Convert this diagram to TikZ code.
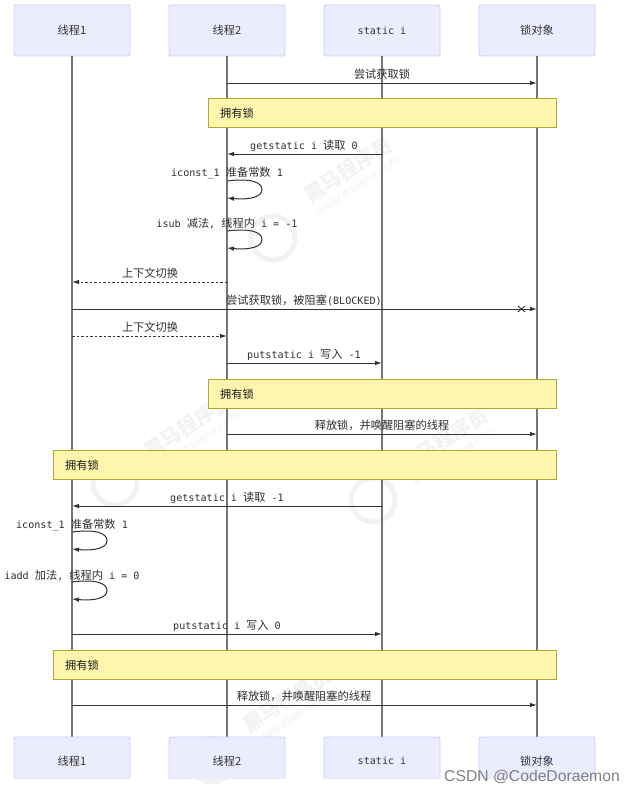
\documentclass[tikz,border=0pt]{standalone}
\usepackage{fontspec}
\setmainfont{Noto Sans CJK SC}
\setmonofont{DejaVu Sans Mono}
\newfontfamily\arialf{Liberation Sans}
\usetikzlibrary{arrows.meta,calc}
\definecolor{actorfill}{HTML}{ECECFF}
\definecolor{actorline}{HTML}{CCCCFF}
\definecolor{notefill}{HTML}{FFF5AD}
\definecolor{noteline}{HTML}{AAAA33}
\definecolor{lifeline}{HTML}{757575}
\definecolor{msgline}{HTML}{333333}
\definecolor{wmark}{HTML}{F2F2F2}
\newcommand{\cj}[1]{{\fontsize{11.2}{13}\selectfont #1}}
\newcommand{\mo}[1]{{\ttfamily\fontsize{10.1}{13}\selectfont #1}}
\tikzset{
  x=1pt,y=-1pt,
  actor/.style={draw=actorline,fill=actorfill,rounded corners=2pt,line width=0.9pt,minimum width=116pt,minimum height=51pt,inner sep=0pt,text=black!80},
  actorb/.style={minimum width=116pt,minimum height=42pt,inner sep=0pt,text=black!80},
  life/.style={draw=lifeline,line width=1.2pt},
  msg/.style={draw=msgline,line width=1pt,-{Latex[length=7pt,width=4.5pt]}},
  msgd/.style={msg,dash pattern=on 2.5pt off 2pt},
  notebox/.style={draw=noteline,fill=notefill,line width=0.9pt,minimum height=29pt,inner sep=0pt,anchor=north west},
  notetxt/.style={anchor=west,inner sep=0pt,text=black!90},
  lab/.style={inner sep=0pt,text=black!82},
  wm/.style={text=wmark,rotate=33,inner sep=0pt,font=\fontsize{20}{22}\selectfont\bfseries},
  wmu/.style={text=wmark,rotate=33,inner sep=0pt,font=\arialf\itshape\fontsize{12.5}{14}\selectfont},
  wmc/.style={draw=wmark,line width=5pt},
}
\begin{document}
\begin{tikzpicture}
\useasboundingbox (0,0) rectangle (634,792);
% watermarks
\foreach \a/\b in {115/483, 373/500, 212/760, 273/238}{\draw[wmc] (\a,\b) circle (22);}
\foreach \a/\b in {188/426, 444/440, 287/700, 348/170}{
  \node[wm] at (\a,\b) {黑马程序员};
  \node[wmu] at (\a+10,\b+15) {www.itheima.com};
}
% actors
\node[actor] (t1) at (72,30.5) {\cj{线程1}};
\node[actor] (t2) at (227,30.5) {\cj{线程2}};
\node[actor] (si) at (382,30.5) {\mo{static i}};
\node[actor] (lk) at (537,30.5) {\cj{锁对象}};
\coordinate (t1b) at (72,737);
\coordinate (t2b) at (227,737);
\coordinate (sib) at (382,737);
\coordinate (lkb) at (537,737);
\draw[life] (t1.south) -- (t1b);
\draw[life] (t2.south) -- (t2b);
\draw[life] (si.south) -- (sib);
\draw[life] (lk.south) -- (lkb);
% bottom actors, cut off by the lower white band
\foreach \cx in {72,227,382,537}{
  \fill[actorfill] (\cx-58,779) [rounded corners=2pt] -- (\cx-58,737) -- (\cx+58,737) [sharp corners] -- (\cx+58,779) -- cycle;
  \draw[actorline,line width=0.9pt] (\cx-58,779) [rounded corners=2pt] -- (\cx-58,737) -- (\cx+58,737) [sharp corners] -- (\cx+58,779);
}
\node[actorb] (t1e) at (72,761) {\cj{线程1}};
\node[actorb] (t2e) at (227,761) {\cj{线程2}};
\node[actorb] (sie) at (382,761) {\mo{static i}};
\node[actorb] (lke) at (537,761) {\cj{锁对象}};
% notes
\node[notebox,minimum width=348pt] (n1) at (208,98) {};
\node[notetxt] at (220,113) {\cj{拥有锁}};
\node[notebox,minimum width=348pt] (n2) at (208,379) {};
\node[notetxt] at (220,394) {\cj{拥有锁}};
\node[notebox,minimum width=503pt] (n3) at (53,450) {};
\node[notetxt] at (65,465) {\cj{拥有锁}};
\node[notebox,minimum width=503pt] (n4) at (53,650) {};
\node[notetxt] at (65,665) {\cj{拥有锁}};
% messages
\draw[msg] (t2.south |- 0,83) -- (lk.south |- 0,83);
\node[lab] at (382,74) {\cj{尝试获取锁}};
\draw[msg] (si.south |- 0,154) -- (t2.south |- 0,154);
\node[lab] at (304,146) {\mo{getstatic i }\cj{读取}\mo{ 0}};
\draw[msg] (t2.south |- 0,181) .. controls (250,178) and (262,182) .. (262,189.5) .. controls (262,197) and (250,200) .. (t2.south |- 0,198);
\node[lab] at (227,173) {\mo{iconst\_1 }\cj{准备常数}\mo{ 1}};
\draw[msg] (t2.south |- 0,231) .. controls (250,228) and (262,232) .. (262,239.5) .. controls (262,247) and (250,250) .. (t2.south |- 0,248);
\node[lab] at (227,223) {\mo{isub }\cj{减法}\mo{, }\cj{线程内}\mo{ i = -1}};
\draw[msgd] (t2.south |- 0,282) -- (t1.south |- 0,282);
\node[lab] at (150,273) {\cj{上下文切换}};
\draw[msg] (t1.south |- 0,309) -- (lk.south |- 0,309);
\draw[msgline,line width=0.9pt] (518,306) -- (525,312) (518,312) -- (525,306);
\node[lab] at (304,300.5) {\cj{尝试获取锁，被阻塞}\mo{(BLOCKED)}};
\draw[msgd] (t1.south |- 0,336) -- (t2.south |- 0,336);
\node[lab] at (150,327) {\cj{上下文切换}};
\draw[msg] (t2.south |- 0,363) -- (si.south |- 0,363);
\node[lab] at (304,355) {\mo{putstatic i }\cj{写入}\mo{ -1}};
\draw[msg] (t2.south |- 0,434) -- (lk.south |- 0,434);
\node[lab] at (382,425) {\cj{释放锁，并唤醒阻塞的线程}};
\draw[msg] (si.south |- 0,506) -- (t1.south |- 0,506);
\node[lab] at (227,498) {\mo{getstatic i }\cj{读取}\mo{ -1}};
\draw[msg] (t1.south |- 0,532) .. controls (95,529) and (107,533) .. (107,540.5) .. controls (107,548) and (95,551) .. (t1.south |- 0,549);
\node[lab] at (72,525) {\mo{iconst\_1 }\cj{准备常数}\mo{ 1}};
\draw[msg] (t1.south |- 0,582) .. controls (95,579) and (107,583) .. (107,590.5) .. controls (107,598) and (95,601) .. (t1.south |- 0,599);
\node[lab] at (72,575) {\mo{iadd }\cj{加法}\mo{, }\cj{线程内}\mo{ i = 0}};
\draw[msg] (t1.south |- 0,634) -- (si.south |- 0,634);
\node[lab] at (227,626) {\mo{putstatic i }\cj{写入}\mo{ 0}};
\draw[msg] (t1.south |- 0,705) -- (lk.south |- 0,705);
\node[lab] at (304,696) {\cj{释放锁，并唤醒阻塞的线程}};
% credit
\node[inner sep=0pt,anchor=west,text=black!50] (csdn) at (444,777) {\arialf\fontsize{15.7}{17}\selectfont CSDN @CodeDoraemon};
\end{tikzpicture}
\end{document}
